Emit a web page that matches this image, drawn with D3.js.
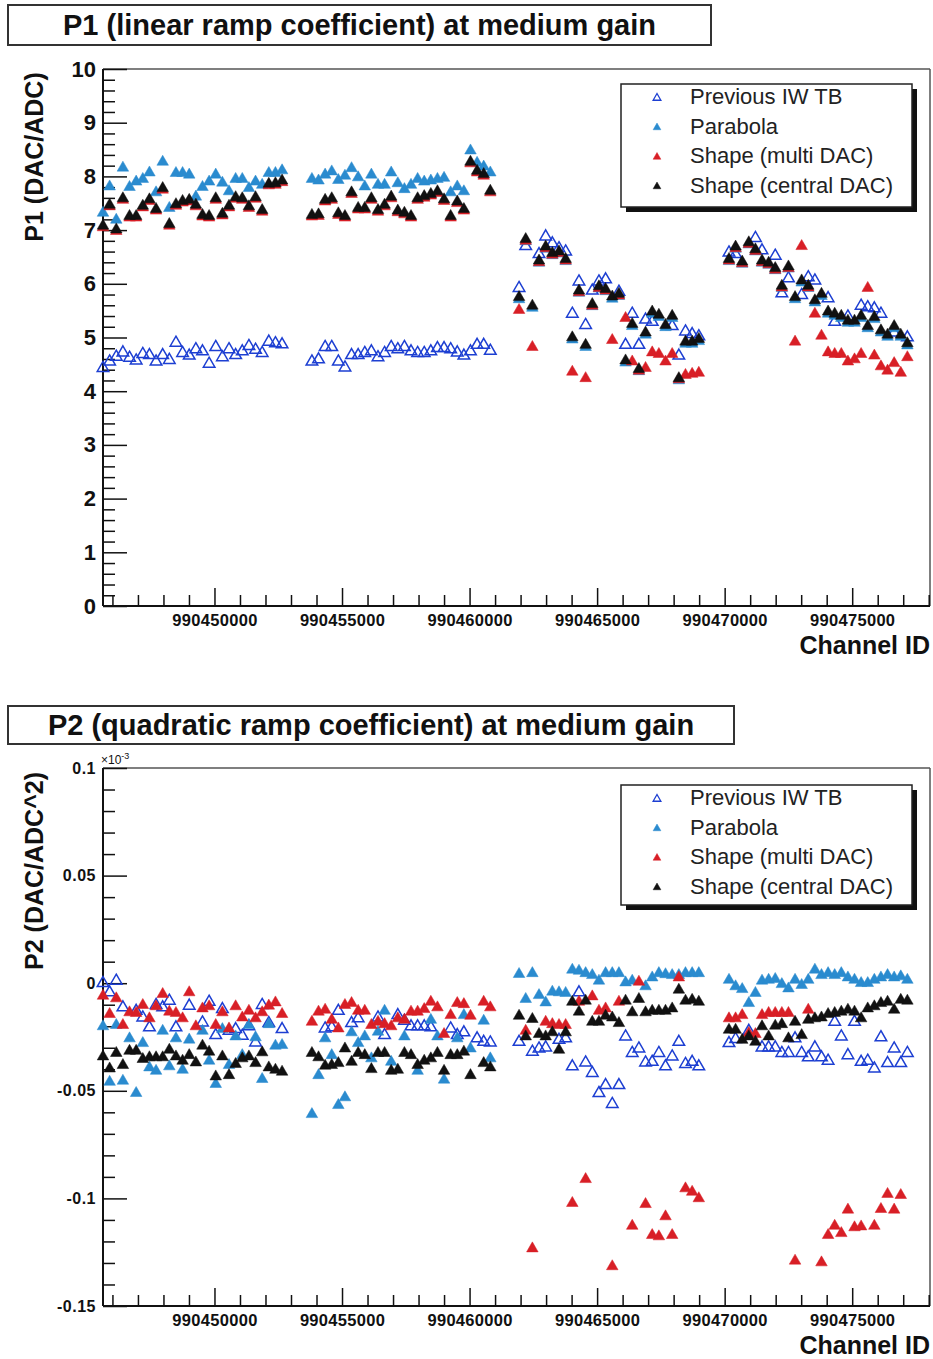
<!DOCTYPE html>
<html><head><meta charset="utf-8">
<script src="https://cdn.jsdelivr.net/npm/d3@7"></script>
<style>body{margin:0;background:#fff} svg{display:block;font-family:"Liberation Sans",Arial,sans-serif}</style>
</head><body>
<svg id="chart" width="933" height="1359"></svg>
<script>
// ---------- channels (x categories), four FEB groups ----------
const channelsA = [990445630,990445890,990446150,990446410,990446670,990446930,990447190,990447450,990447710,990447970,990448230,990448490,990448750,990449010,990449270,990449530,990449790,990450050,990450310,990450570,990450830,990451090,990451350,990451610,990451870,990452130,990452390,990452650];
const channelsB = [990453820,990454079,990454338,990454597,990454856,990455115,990455374,990455633,990455892,990456151,990456410,990456669,990456928,990457187,990457446,990457705,990457964,990458223,990458482,990458741,990459000,990459259,990459518,990459777,990460036,990460295,990460554,990460813];
const channelsC = [990461940,990462201,990462462,990462723,990462984,990463245,990463506,990463767,990464028,990464289,990464550,990464811,990465072,990465333,990465594,990465855,990466116,990466377,990466638,990466899,990467160,990467421,990467682,990467943,990468204,990468465,990468726,990468987];
const channelsD = [990470170,990470429,990470688,990470947,990471206,990471465,990471724,990471983,990472242,990472501,990472760,990473019,990473278,990473537,990473796,990474055,990474314,990474573,990474832,990475091,990475350,990475609,990475868,990476127,990476386,990476645,990476904,990477163];
const channels = [...channelsA, ...channelsB, ...channelsC, ...channelsD];

const seriesNames = ["Previous IW TB", "Parabola", "Shape (multi DAC)", "Shape (central DAC)"];

// ---------- P1 values (DAC/ADC) ----------
const p1PrevIW = [
 4.43,4.55,4.64,4.72,4.62,4.57,4.69,4.67,4.55,4.67,4.58,4.90,4.71,4.66,4.78,4.74,4.51,4.82,4.63,4.78,4.67,4.74,4.84,4.77,4.71,4.92,4.89,4.87,
 4.55,4.59,4.82,4.82,4.55,4.44,4.67,4.67,4.71,4.74,4.63,4.71,4.82,4.78,4.82,4.74,4.71,4.71,4.74,4.80,4.80,4.78,4.72,4.66,4.74,4.86,4.86,4.75,
 5.92,6.70,null,6.55,6.88,6.75,6.66,6.60,5.44,6.04,5.23,5.87,6.04,6.08,null,5.85,4.86,5.44,4.86,5.33,5.29,null,null,5.21,4.66,5.11,5.06,5.02,
 6.58,6.55,null,null,6.85,6.62,null,6.52,5.82,6.10,null,5.79,6.12,6.06,null,5.73,5.29,null,5.39,null,5.59,5.56,5.54,5.44,null,5.09,null,5.00];
const p1Parabola = [
 7.32,7.81,7.19,8.16,7.80,7.90,7.95,8.07,7.70,8.27,7.41,8.06,8.06,8.03,7.62,7.80,7.90,8.03,7.88,7.72,7.95,7.95,7.78,7.90,7.84,8.06,8.06,8.11,
 7.95,7.92,8.03,8.09,7.93,8.01,8.15,7.98,7.81,8.03,7.84,7.84,8.07,7.87,7.76,7.84,7.95,7.90,7.92,7.95,7.97,7.70,7.81,7.72,8.48,8.25,8.18,8.07,
 5.71,6.79,5.55,6.39,6.65,6.53,6.56,6.42,4.96,5.83,4.82,5.58,5.91,5.86,5.72,5.77,4.53,5.21,4.37,5.05,5.44,5.38,5.19,5.36,4.20,4.88,4.88,4.93,
 6.42,6.65,6.37,6.73,6.60,6.39,6.35,6.25,5.92,6.28,5.71,6.02,5.92,5.65,5.77,5.44,5.40,5.36,5.27,5.27,5.36,5.17,5.34,5.09,5.01,5.17,5.01,4.85];
const p1ShapeMulti = [
 7.05,7.44,6.98,7.56,7.23,7.23,7.42,7.54,7.36,7.75,7.08,7.45,7.51,7.53,7.44,7.25,7.23,7.56,7.27,7.42,7.58,7.56,7.41,7.58,7.34,7.83,7.84,7.89,
 7.25,7.26,7.53,7.56,7.28,7.23,7.67,7.38,7.38,7.56,7.34,7.44,7.59,7.33,7.29,7.23,7.56,7.60,7.64,7.69,7.54,7.23,7.50,7.36,8.24,8.07,8.01,7.70,
 5.51,6.80,4.82,6.40,6.66,6.54,6.57,6.43,4.36,5.84,4.24,5.59,5.92,5.87,4.95,5.78,5.36,4.55,4.38,4.43,4.72,4.69,4.55,4.69,4.22,4.30,4.32,4.34,
 6.43,6.66,6.38,6.74,6.61,6.40,6.36,6.26,5.93,6.29,4.92,6.70,5.93,5.44,5.03,4.72,4.69,4.69,4.55,4.59,4.69,5.92,4.66,4.46,4.38,4.52,4.34,4.63];
const p1ShapeCentral = [
 7.08,7.47,7.01,7.59,7.26,7.26,7.45,7.57,7.39,7.78,7.11,7.48,7.54,7.56,7.47,7.28,7.26,7.59,7.30,7.45,7.61,7.59,7.44,7.61,7.37,7.86,7.87,7.92,
 7.28,7.29,7.56,7.59,7.31,7.26,7.70,7.41,7.41,7.59,7.37,7.47,7.62,7.36,7.32,7.26,7.59,7.63,7.67,7.72,7.57,7.26,7.53,7.39,8.27,8.10,8.04,7.73,
 5.75,6.83,5.59,6.43,6.69,6.57,6.60,6.46,5.00,5.87,4.86,5.62,5.95,5.90,5.76,5.81,4.57,5.25,4.41,5.09,5.48,5.42,5.23,5.40,4.24,4.92,4.92,4.97,
 6.46,6.69,6.41,6.77,6.64,6.43,6.39,6.29,5.96,6.32,5.75,6.06,5.96,5.69,5.81,5.48,5.44,5.40,5.31,5.31,5.40,5.21,5.38,5.13,5.05,5.21,5.05,4.89];

// ---------- P2 values (DAC/ADC^2, x10^-3) ----------
const p2PrevIW = [
 0.0000,-0.0043,0.0011,-0.0113,null,-0.0129,-0.0160,-0.0206,-0.0102,-0.0113,-0.0082,-0.0206,null,-0.0105,null,-0.0183,-0.0087,-0.0242,-0.0121,-0.0222,-0.0214,-0.0245,-0.0201,-0.0276,-0.0102,-0.0186,null,-0.0214,
 null,null,-0.0211,-0.0206,-0.0129,null,-0.0186,-0.0164,null,null,-0.0160,-0.0242,null,-0.0149,-0.0175,-0.0201,-0.0201,-0.0201,-0.0206,null,null,-0.0211,-0.0242,-0.0229,null,-0.0257,-0.0273,-0.0276,
 -0.0273,null,-0.0319,-0.0304,-0.0299,null,-0.0264,-0.0257,-0.0387,-0.0043,-0.0369,-0.0418,-0.0511,-0.0474,-0.0562,-0.0474,-0.0248,-0.0325,-0.0304,-0.0369,-0.0366,-0.0325,-0.0387,-0.0341,-0.0273,-0.0376,-0.0366,-0.0387,
 -0.0279,-0.0260,null,-0.0222,null,-0.0299,-0.0299,-0.0299,-0.0325,-0.0325,-0.0257,-0.0325,-0.0345,-0.0299,-0.0345,-0.0361,-0.0180,-0.0248,-0.0335,-0.0180,-0.0366,-0.0361,-0.0397,-0.0252,-0.0372,-0.0304,-0.0372,-0.0325];
const p2Parabola = [
 -0.0201,-0.0459,-0.0195,-0.0454,-0.0257,-0.0511,-0.0279,-0.0392,-0.0408,-0.0222,-0.0387,-0.0257,-0.0403,-0.0263,null,-0.0222,-0.0361,-0.0469,-0.0214,-0.0381,-0.0248,-0.0335,-0.0195,-0.0252,-0.0446,-0.0191,-0.0291,-0.0288,
 -0.0609,-0.0428,-0.0257,-0.0335,-0.0567,-0.0531,-0.0229,-0.0279,-0.0248,-0.0350,-0.0226,-0.0129,-0.0366,null,-0.0248,null,-0.0408,null,-0.0171,-0.0248,-0.0449,null,-0.0257,-0.0149,-0.0304,null,-0.0175,-0.0350,
 0.0042,-0.0074,0.0046,-0.0056,-0.0090,-0.0040,-0.0043,-0.0046,0.0062,0.0057,0.0046,0.0037,0.0011,0.0046,0.0046,0.0046,0.0003,0.0011,null,-0.0015,0.0026,0.0046,0.0041,0.0037,0.0037,0.0046,0.0046,0.0046,
 0.0015,-0.0015,-0.0028,-0.0093,-0.0046,0.0011,0.0015,0.0019,-0.0005,-0.0025,0.0015,-0.0009,0.0015,0.0062,0.0037,0.0046,0.0037,0.0046,0.0026,0.0015,0.0000,0.0000,0.0015,0.0026,0.0037,0.0026,0.0031,0.0015];
const p2ShapeMulti = [
 -0.0059,-0.0144,-0.0071,-0.0195,-0.0136,-0.0139,-0.0102,-0.0164,-0.0108,-0.0051,-0.0133,-0.0139,-0.0164,-0.0043,-0.0201,-0.0118,-0.0108,-0.0195,-0.0136,-0.0211,-0.0108,-0.0160,-0.0129,-0.0164,-0.0136,-0.0105,-0.0090,-0.0144,
 -0.0180,-0.0133,-0.0124,-0.0171,-0.0211,-0.0102,-0.0093,-0.0129,-0.0129,-0.0195,-0.0180,-0.0191,-0.0201,-0.0164,-0.0171,-0.0133,-0.0133,-0.0121,-0.0087,-0.0113,-0.0237,-0.0149,-0.0093,-0.0098,-0.0152,null,-0.0087,-0.0113,
 null,-0.0222,-0.1233,null,-0.0180,-0.0191,-0.0195,-0.0195,-0.1022,-0.0087,-0.0911,-0.0062,-0.0129,-0.0118,-0.1316,-0.0087,null,-0.1128,0.0006,-0.1027,-0.1171,-0.1177,-0.1084,-0.1171,0.0026,-0.0954,-0.0970,-0.1000,
 -0.0164,-0.0164,-0.0149,-0.0232,-0.0237,-0.0149,-0.0139,-0.0139,-0.0139,-0.0139,-0.1290,null,-0.0124,null,-0.1298,-0.1171,-0.1128,-0.1162,-0.1053,-0.1135,-0.1131,null,-0.1128,-0.1050,-0.0980,-0.1053,-0.0985,null];
const p2ShapeCentral = [
 -0.0341,-0.0397,-0.0325,-0.0381,-0.0315,-0.0315,-0.0353,-0.0345,-0.0345,-0.0345,-0.0310,-0.0341,-0.0361,-0.0335,-0.0369,-0.0291,-0.0319,-0.0434,-0.0341,-0.0428,-0.0376,-0.0350,-0.0341,-0.0372,-0.0322,-0.0392,-0.0403,-0.0412,
 -0.0325,-0.0345,-0.0384,-0.0381,-0.0372,-0.0304,-0.0366,-0.0325,-0.0335,-0.0400,-0.0325,-0.0325,-0.0408,-0.0403,-0.0325,-0.0335,-0.0381,-0.0361,-0.0350,-0.0325,-0.0408,-0.0335,-0.0335,-0.0319,-0.0428,null,-0.0372,-0.0392,
 -0.0152,-0.0248,-0.0167,-0.0237,-0.0248,-0.0229,-0.0310,-0.0229,-0.0087,-0.0133,-0.0082,-0.0180,-0.0180,-0.0152,-0.0160,-0.0186,-0.0082,-0.0136,-0.0074,-0.0136,-0.0129,-0.0129,-0.0129,-0.0118,-0.0031,-0.0082,-0.0078,-0.0087,
 -0.0217,-0.0217,-0.0264,-0.0248,-0.0273,-0.0201,-0.0248,-0.0198,-0.0191,-0.0257,-0.0180,-0.0242,-0.0171,-0.0164,-0.0160,-0.0144,-0.0139,-0.0133,-0.0124,-0.0133,-0.0164,-0.0118,-0.0108,-0.0093,-0.0087,-0.0124,-0.0078,-0.0082];

// ---------- ticks ----------
const xMajorTicks = [990450000, 990455000, 990460000, 990465000, 990470000, 990475000];
const p1MajorTicks = [0,1,2,3,4,5,6,7,8,9,10];
const p2MajorTicks = [-0.15,-0.1,-0.05,0,0.05,0.1];
const p2TickLabels = ["-0.15","-0.1","-0.05","0","0.05","0.1"];

// ---------- drawing ----------
const xDomain = [990445630, 990478050];
const seriesStyle = [
  {color:"#1d3fd2", open:true},
  {color:"#2a8bcf", open:false},
  {color:"#d81f26", open:false},
  {color:"#111111", open:false}
];
const svg = d3.select("#chart");
svg.append("rect").attr("width",933).attr("height",1359).attr("fill","#fff");

function drawPanel(cfg) {
  const g = svg.append("g");
  const L = 103, R = 930;
  const x = d3.scaleLinear().domain(xDomain).range([L, R]);
  const y = d3.scaleLinear().domain(cfg.yDomain).range([cfg.bottom, cfg.top]);

  // title box
  g.append("rect").attr("x", cfg.titleBox[0]).attr("y", cfg.titleBox[1])
    .attr("width", cfg.titleBox[2]).attr("height", cfg.titleBox[3])
    .attr("fill", "#fff").attr("stroke", "#333").attr("stroke-width", 2);
  g.append("text").attr("x", cfg.titleBox[0] + cfg.titleBox[2] / 2).attr("y", cfg.titleBox[1] + cfg.titleBox[3] / 2 + 10)
    .attr("text-anchor", "middle").attr("font-size", 29).attr("font-weight", "bold").attr("fill", "#111")
    .text(cfg.title);

  // frame
  g.append("line").attr("x1", L).attr("x2", R).attr("y1", cfg.top).attr("y2", cfg.top).attr("stroke", "#555").attr("stroke-width", 1.5);
  g.append("line").attr("x1", R).attr("x2", R).attr("y1", cfg.top).attr("y2", cfg.bottom).attr("stroke", "#555").attr("stroke-width", 1.5);

  // minor y ticks
  const yMinor = d3.range(cfg.yDomain[0], cfg.yDomain[1] + 1e-9, cfg.minorStep)
    .filter(v => !cfg.majorTicks.some(m => Math.abs(m - v) < 1e-9));
  const yMinorAxis = d3.axisLeft(y).tickValues(yMinor).tickSize(-12).tickFormat("");
  g.append("g").attr("transform", `translate(${L},0)`).call(yMinorAxis)
    .call(s => s.select(".domain").remove())
    .call(s => s.selectAll("line").attr("stroke", "#111").attr("stroke-width", 1.5));
  const yAxis = d3.axisLeft(y).tickValues(cfg.majorTicks).tickSize(-24).tickPadding(7)
    .tickFormat((d, i) => cfg.tickLabels[i]);
  g.append("g").attr("transform", `translate(${L},0)`).call(yAxis)
    .call(s => s.select(".domain").remove())
    .call(s => s.selectAll("line").attr("stroke", "#111").attr("stroke-width", 1.5))
    .call(s => s.selectAll("text").attr("font-size", cfg.yTickFont).attr("font-weight", "bold")
      .attr("fill", "#111").attr("font-family", "Liberation Sans, Arial, sans-serif").attr("letter-spacing", cfg.yTickSpacing));

  // x ticks
  const xMinor = d3.range(990446000, 990478001, 1000).filter(v => v % 5000 !== 0);
  g.append("g").attr("transform", `translate(0,${cfg.bottom})`)
    .call(d3.axisBottom(x).tickValues(xMinor).tickSize(-11).tickFormat(""))
    .call(s => s.select(".domain").remove())
    .call(s => s.selectAll("line").attr("stroke", "#111").attr("stroke-width", 1.5));
  g.append("g").attr("transform", `translate(0,${cfg.bottom})`)
    .call(d3.axisBottom(x).tickValues(xMajorTicks).tickSize(-18).tickPadding(8).tickFormat(d3.format("d")))
    .call(s => s.select(".domain").remove())
    .call(s => s.selectAll("line").attr("stroke", "#111").attr("stroke-width", 1.5))
    .call(s => s.selectAll("text").attr("font-size", 16.5).attr("font-weight", "bold").attr("fill", "#111")
      .attr("font-family", "Liberation Sans, Arial, sans-serif").attr("letter-spacing", 0.3));

  // axis lines (left, bottom)
  g.append("line").attr("x1", L).attr("x2", L).attr("y1", cfg.top).attr("y2", cfg.bottom).attr("stroke", "#111").attr("stroke-width", 2);
  g.append("line").attr("x1", L).attr("x2", R).attr("y1", cfg.bottom).attr("y2", cfg.bottom).attr("stroke", "#111").attr("stroke-width", 2);

  // axis titles
  g.append("text").attr("transform", `translate(43,${cfg.yTitleY}) rotate(-90)`)
    .attr("text-anchor", "middle").attr("font-size", 25).attr("font-weight", "bold").attr("fill", "#111")
    .text(cfg.yTitle);
  g.append("text").attr("x", R).attr("y", cfg.bottom + 48).attr("text-anchor", "end")
    .attr("font-size", 25).attr("font-weight", "bold").attr("fill", "#111").text("Channel ID");

  if (cfg.exponent) {
    const t = g.append("text").attr("x", 101).attr("y", cfg.top - 4).attr("font-size", 12).attr("fill", "#111");
    t.append("tspan").text("\u00d710");
    t.append("tspan").attr("dy", -5).attr("font-size", 9).text("-3");
  }

  // markers
  const symFilled = d3.symbol(d3.symbolTriangle, 58);
  cfg.series.forEach((vals, si) => {
    const st = seriesStyle[si];
    const pts = channels.map((c, i) => ({c, v: vals[i]})).filter(d => d.v !== null);
    g.append("g").selectAll("path").data(pts).join("path")
      .attr("transform", d => `translate(${x(d.c)},${y(d.v)})`)
      .attr("d", symFilled)
      .attr("fill", st.open ? "none" : st.color)
      .attr("stroke", st.color)
      .attr("stroke-width", st.open ? 1.5 : 0.5);
  });

  // legend
  const lb = cfg.legendBox;
  g.append("rect").attr("x", lb[0] + 5).attr("y", lb[1] + 5).attr("width", lb[2]).attr("height", lb[3]).attr("fill", "#111");
  g.append("rect").attr("x", lb[0]).attr("y", lb[1]).attr("width", lb[2]).attr("height", lb[3])
    .attr("fill", "#fff").attr("stroke", "#222").attr("stroke-width", 1.5);
  const symLeg = d3.symbol(d3.symbolTriangle, 26);
  seriesNames.forEach((name, i) => {
    const cy = lb[1] + 12 + i * 29.5;
    const st = seriesStyle[i];
    g.append("path").attr("transform", `translate(${lb[0] + 36},${cy + 2})`).attr("d", symLeg)
      .attr("fill", st.open ? "none" : st.color).attr("stroke", st.color).attr("stroke-width", st.open ? 1.3 : 0.5);
    g.append("text").attr("x", lb[0] + 69).attr("y", cy + 8).attr("font-size", 22).attr("fill", "#222").text(name);
  });
}

drawPanel({
  top: 69, bottom: 606, yDomain: [0, 10], majorTicks: p1MajorTicks, tickLabels: p1MajorTicks.map(String),
  minorStep: 0.2, yTickFont: 22, yTickSpacing: 0,
  title: "P1 (linear ramp coefficient) at medium gain", titleBox: [8, 5, 703, 40],
  yTitle: "P1 (DAC/ADC)", yTitleY: 157, legendBox: [621, 84, 291, 123],
  series: [p1PrevIW, p1Parabola, p1ShapeMulti, p1ShapeCentral], exponent: false
});
drawPanel({
  top: 768, bottom: 1306, yDomain: [-0.15, 0.1], majorTicks: p2MajorTicks, tickLabels: p2TickLabels,
  minorStep: 0.01, yTickFont: 16, yTickSpacing: 0.5,
  title: "P2 (quadratic ramp coefficient) at medium gain", titleBox: [8, 706, 726, 38],
  yTitle: "P2 (DAC/ADC^2)", yTitleY: 871, legendBox: [621, 785, 291, 120],
  series: [p2PrevIW, p2Parabola, p2ShapeMulti, p2ShapeCentral], exponent: true
});
</script>
</body></html>
